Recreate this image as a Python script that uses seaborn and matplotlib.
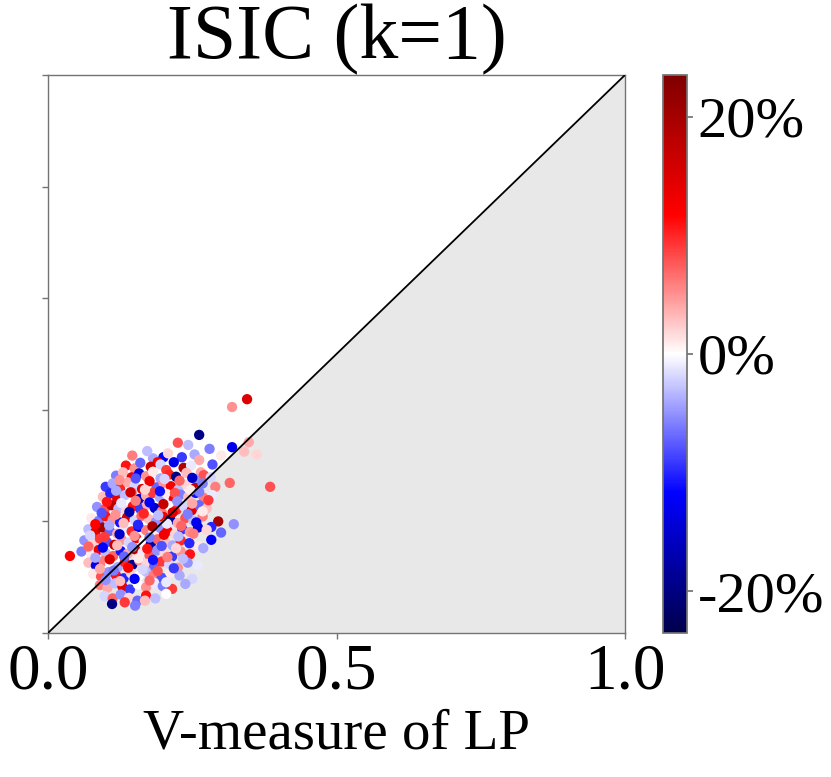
import numpy as np
import pandas as pd
import matplotlib
matplotlib.use("Agg")
import matplotlib.pyplot as plt
import seaborn as sns
from matplotlib.colors import Normalize
from matplotlib.cm import ScalarMappable

# ---- data (x: V-measure of LP, y: other method, v: change in %) ----
x_vals = [
    0.345, 0.319, 0.385,
    0.262, 0.348, 0.319, 0.362, 0.340, 0.225, 0.243, 0.200, 0.182,
    0.146, 0.172, 0.190, 0.208, 0.232, 0.254, 0.262, 0.280, 0.300,
    0.135, 0.150, 0.160, 0.178, 0.195, 0.205, 0.218, 0.235, 0.248, 0.265, 0.285,
    0.118, 0.130, 0.145, 0.158, 0.170, 0.182, 0.195, 0.210, 0.222, 0.240, 0.255, 0.270, 0.282,
    0.100, 0.112, 0.125, 0.138, 0.150, 0.163, 0.175, 0.188, 0.200, 0.213, 0.226, 0.240, 0.255, 0.268, 0.290, 0.315,
    0.095, 0.108, 0.120, 0.133, 0.145, 0.158, 0.170, 0.182, 0.194, 0.206, 0.218, 0.230, 0.243, 0.256, 0.270, 0.285,
    0.085, 0.098, 0.110, 0.122, 0.135, 0.147, 0.160, 0.172, 0.185, 0.197, 0.210, 0.223, 0.236, 0.249, 0.262, 0.275, 0.295,
    0.075, 0.088, 0.100, 0.112, 0.125, 0.137, 0.150, 0.162, 0.175, 0.187, 0.200, 0.212, 0.225, 0.238, 0.252, 0.268, 0.283, 0.322,
    0.070, 0.082, 0.095, 0.107, 0.120, 0.132, 0.145, 0.157, 0.170, 0.182, 0.195, 0.207, 0.220, 0.233, 0.246, 0.260, 0.275, 0.300,
    0.063, 0.077, 0.090, 0.102, 0.115, 0.128, 0.140, 0.153, 0.166, 0.178, 0.190, 0.203, 0.216, 0.230, 0.245, 0.262, 0.283,
    0.038, 0.058, 0.075, 0.088, 0.100, 0.113, 0.126, 0.138, 0.151, 0.164, 0.176, 0.189, 0.202, 0.215, 0.230, 0.246, 0.269,
    0.070, 0.083, 0.096, 0.108, 0.121, 0.133, 0.146, 0.158, 0.171, 0.184, 0.197, 0.210, 0.225, 0.242, 0.260,
    0.078, 0.092, 0.105, 0.118, 0.131, 0.144, 0.157, 0.170, 0.183, 0.197, 0.212, 0.228, 0.250,
    0.090, 0.103, 0.116, 0.129, 0.142, 0.156, 0.170, 0.184, 0.199, 0.215, 0.238,
    0.098, 0.112, 0.126, 0.140, 0.155, 0.170, 0.186, 0.205,
    0.111, 0.133, 0.151, 0.168,
    0.124, 0.152, 0.176, 0.202, 0.228, 0.250,
    0.118, 0.143, 0.168, 0.194, 0.220, 0.247, 0.262,
    0.102, 0.127, 0.152, 0.176, 0.200, 0.224, 0.250, 0.278,
    0.093, 0.117, 0.141, 0.166, 0.191, 0.216, 0.242, 0.268,
    0.082, 0.106, 0.131, 0.156, 0.181, 0.206, 0.231, 0.257,
    0.073, 0.098, 0.124, 0.150, 0.176, 0.201, 0.226, 0.252,
    0.070, 0.095, 0.120, 0.146, 0.172, 0.197, 0.222,
    0.082, 0.107, 0.132, 0.157, 0.182, 0.207, 0.234,
    0.090, 0.114, 0.139, 0.164, 0.190, 0.218,
    0.100, 0.125, 0.150, 0.176, 0.205,
]
y_vals = [
    0.419, 0.405, 0.262,
    0.355, 0.342, 0.333, 0.320, 0.325, 0.341, 0.337, 0.315, 0.313,
    0.318, 0.326, 0.306, 0.322, 0.315, 0.320, 0.310, 0.330, 0.318,
    0.300, 0.295, 0.305, 0.298, 0.302, 0.292, 0.306, 0.296, 0.300, 0.288, 0.302,
    0.282, 0.288, 0.279, 0.286, 0.281, 0.289, 0.277, 0.284, 0.280, 0.287, 0.276, 0.283, 0.279,
    0.262, 0.268, 0.259, 0.270, 0.264, 0.258, 0.267, 0.261, 0.269, 0.263, 0.257, 0.266, 0.260, 0.268, 0.262, 0.269,
    0.244, 0.250, 0.241, 0.247, 0.252, 0.240, 0.246, 0.251, 0.243, 0.249, 0.240, 0.248, 0.244, 0.251, 0.242, 0.247,
    0.226, 0.221, 0.229, 0.223, 0.219, 0.227, 0.222, 0.230, 0.224, 0.218, 0.228, 0.221, 0.226, 0.220, 0.229, 0.223, 0.200,
    0.206, 0.201, 0.209, 0.203, 0.198, 0.207, 0.202, 0.210, 0.204, 0.199, 0.208, 0.203, 0.197, 0.206, 0.201, 0.209, 0.190, 0.195,
    0.186, 0.181, 0.189, 0.183, 0.178, 0.187, 0.182, 0.190, 0.184, 0.179, 0.188, 0.183, 0.177, 0.186, 0.181, 0.189, 0.185, 0.180,
    0.166, 0.161, 0.169, 0.163, 0.158, 0.167, 0.162, 0.170, 0.164, 0.159, 0.168, 0.163, 0.157, 0.166, 0.161, 0.155, 0.167,
    0.138, 0.146, 0.141, 0.149, 0.143, 0.138, 0.147, 0.142, 0.150, 0.144, 0.139, 0.148, 0.143, 0.137, 0.146, 0.141, 0.152,
    0.126, 0.121, 0.129, 0.123, 0.118, 0.127, 0.122, 0.130, 0.124, 0.119, 0.128, 0.123, 0.117, 0.126, 0.121,
    0.106, 0.101, 0.109, 0.103, 0.098, 0.107, 0.102, 0.110, 0.104, 0.099, 0.108, 0.103, 0.097,
    0.086, 0.081, 0.089, 0.083, 0.078, 0.087, 0.082, 0.090, 0.084, 0.079, 0.088,
    0.066, 0.062, 0.069, 0.063, 0.058, 0.067, 0.062, 0.070,
    0.052, 0.055, 0.049, 0.058,
    0.274, 0.277, 0.272, 0.276, 0.273, 0.278,
    0.255, 0.252, 0.257, 0.254, 0.251, 0.256, 0.253,
    0.235, 0.233, 0.237, 0.234, 0.231, 0.236, 0.232, 0.238,
    0.215, 0.212, 0.217, 0.214, 0.211, 0.216, 0.213, 0.218,
    0.195, 0.193, 0.197, 0.194, 0.191, 0.196, 0.192, 0.198,
    0.175, 0.172, 0.177, 0.174, 0.171, 0.176, 0.173, 0.178,
    0.155, 0.153, 0.157, 0.154, 0.151, 0.156, 0.152,
    0.135, 0.132, 0.137, 0.134, 0.131, 0.136, 0.133,
    0.115, 0.112, 0.117, 0.114, 0.111, 0.116,
    0.095, 0.093, 0.097, 0.094, 0.091,
]
change_pct = [
    15, 5, 8,
    -20, 4, -13, 2, 3, 8, -3, -12, -4,
    6, -3, 12, 2, -9, -4, 4, -6, 1,
    11, 5, -7, 16, -2, 9, -13, 19, -1, 4, -8,
    -6, 3, 13, -14, 5, 1, -4, 10, -20, 3, -5, 8, -2,
    -9, -4, 10, 4, -2, 15, 0, -7, 5, 12, -3, 2, 17, -6, 6, 7,
    3, -10, 14, -3, 7, -16, 4, 9, -4, 1, 13, -6, 3, -11, 6, -1,
    -5, 8, 18, -3, 2, 11, -9, 4, -15, 6, 0, 10, -2, 14, -7, 3, 20,
    1, -6, 11, 5, -11, 16, -2, 7, 3, -5, 13, -18, 4, 8, -3, 6, -10, -5,
    -3, 14, 20, -7, 4, -1, 10, -13, 6, 1, -5, 12, 2, -9, 5, -14, 2, -7,
    -5, 2, 9, -8, 17, 5, -2, 12, 0, -17, 7, 3, -4, 10, -10, 1, -12,
    12, -6, 1, 13, -3, 7, -11, 4, 18, -1, 8, -5, 2, -9, 5, 11, -4,
    3, -13, 6, 0, -4, 10, -19, 5, 2, -7, 9, -2, 5, -5, -1,
    1, 8, -5, 11, -10, 2, 0, -3, 6, -8, 1, -4, -2,
    6, 4, -3, 14, -9, 0, 5, -1, -6, 9, -4,
    -2, 7, -5, 2, -7, 11, -3, 0,
    -20, 9, -6, 3,
    5, -8, 13, -2, 7, -15,
    -4, 16, 2, -11, 8, 1, -6,
    11, -1, 6, -12, 17, -5, 4, 9,
    -8, 5, -17, 10, -3, 15, -6, 1,
    12, -4, 3, -10, 19, -1, 7, -13,
    -2, 9, -15, 5, -6, 13, -3, 6,
    7, -12, 3, -5, 11, -8, 2,
    -4, 15, -7, 1, -11, 6, -3,
    4, -6, 12, -2, 8, -9,
    -5, 3, -12, 7, -1,
]
x_ticks = [0.0, 0.5, 1.0]
x_ticklabels = ["0.0", "0.5", "1.0"]
y_ticks = [0.0, 0.2, 0.4, 0.6, 0.8, 1.0]
cbar_ticks = [-20, 0, 20]
cbar_ticklabels = ["-20%", "0%", "20%"]
VMAX = 23.5

df = pd.DataFrame({"x": x_vals, "y": y_vals, "v": change_pct})

sns.set_theme(style="ticks")
plt.rcParams["font.family"] = ["Liberation Serif", "DejaVu Serif"]
plt.rcParams["text.color"] = "black"
plt.rcParams["axes.labelcolor"] = "black"
plt.rcParams["xtick.labelcolor"] = "black"
plt.rcParams["ytick.labelcolor"] = "black"

W, H = 831, 777
fig = plt.figure(figsize=(W / 100, H / 100), dpi=100)
ax = fig.add_axes([48 / W, (H - 633) / H, (625 - 48) / W, (633 - 75) / H])
cax = fig.add_axes([663 / W, (H - 633) / H, 24 / W, (633 - 75) / H])

ax.fill_between([0, 1], [0, 0], [0, 1], color="#e8e8e8", lw=0, zorder=0)
sns.scatterplot(data=df, x="x", y="y", hue="v", palette="seismic",
                hue_norm=(-VMAX, VMAX), s=55, linewidth=0, legend=False,
                ax=ax, zorder=2)
ax.plot([0, 1], [0, 1], color="black", lw=1.3, zorder=3)

ax.set_xlim(0, 1)
ax.set_ylim(0, 1)
ax.set_xticks(x_ticks)
ax.set_xticklabels(x_ticklabels, fontsize=47, color="black")
ax.set_yticks(y_ticks)
ax.set_yticklabels([])
ax.set_xlabel("V-measure of LP", fontsize=41, color="black")
ax.set_ylabel("")
ax.set_title("ISIC (k=1)", fontsize=56, color="black")
for sp in ax.spines.values():
    sp.set_color("0.45")
    sp.set_linewidth(1.0)
ax.tick_params(axis="both", color="0.45", length=4, width=1)

sm = ScalarMappable(norm=Normalize(-VMAX, VMAX), cmap="seismic")
cb = fig.colorbar(sm, cax=cax)
cb.set_ticks(cbar_ticks)
cb.set_ticklabels(cbar_ticklabels)
cb.ax.tick_params(labelsize=42, length=4, color="0.45", labelcolor="black")
cb.outline.set_edgecolor("0.45")

fig.savefig("out.png", dpi=100)
